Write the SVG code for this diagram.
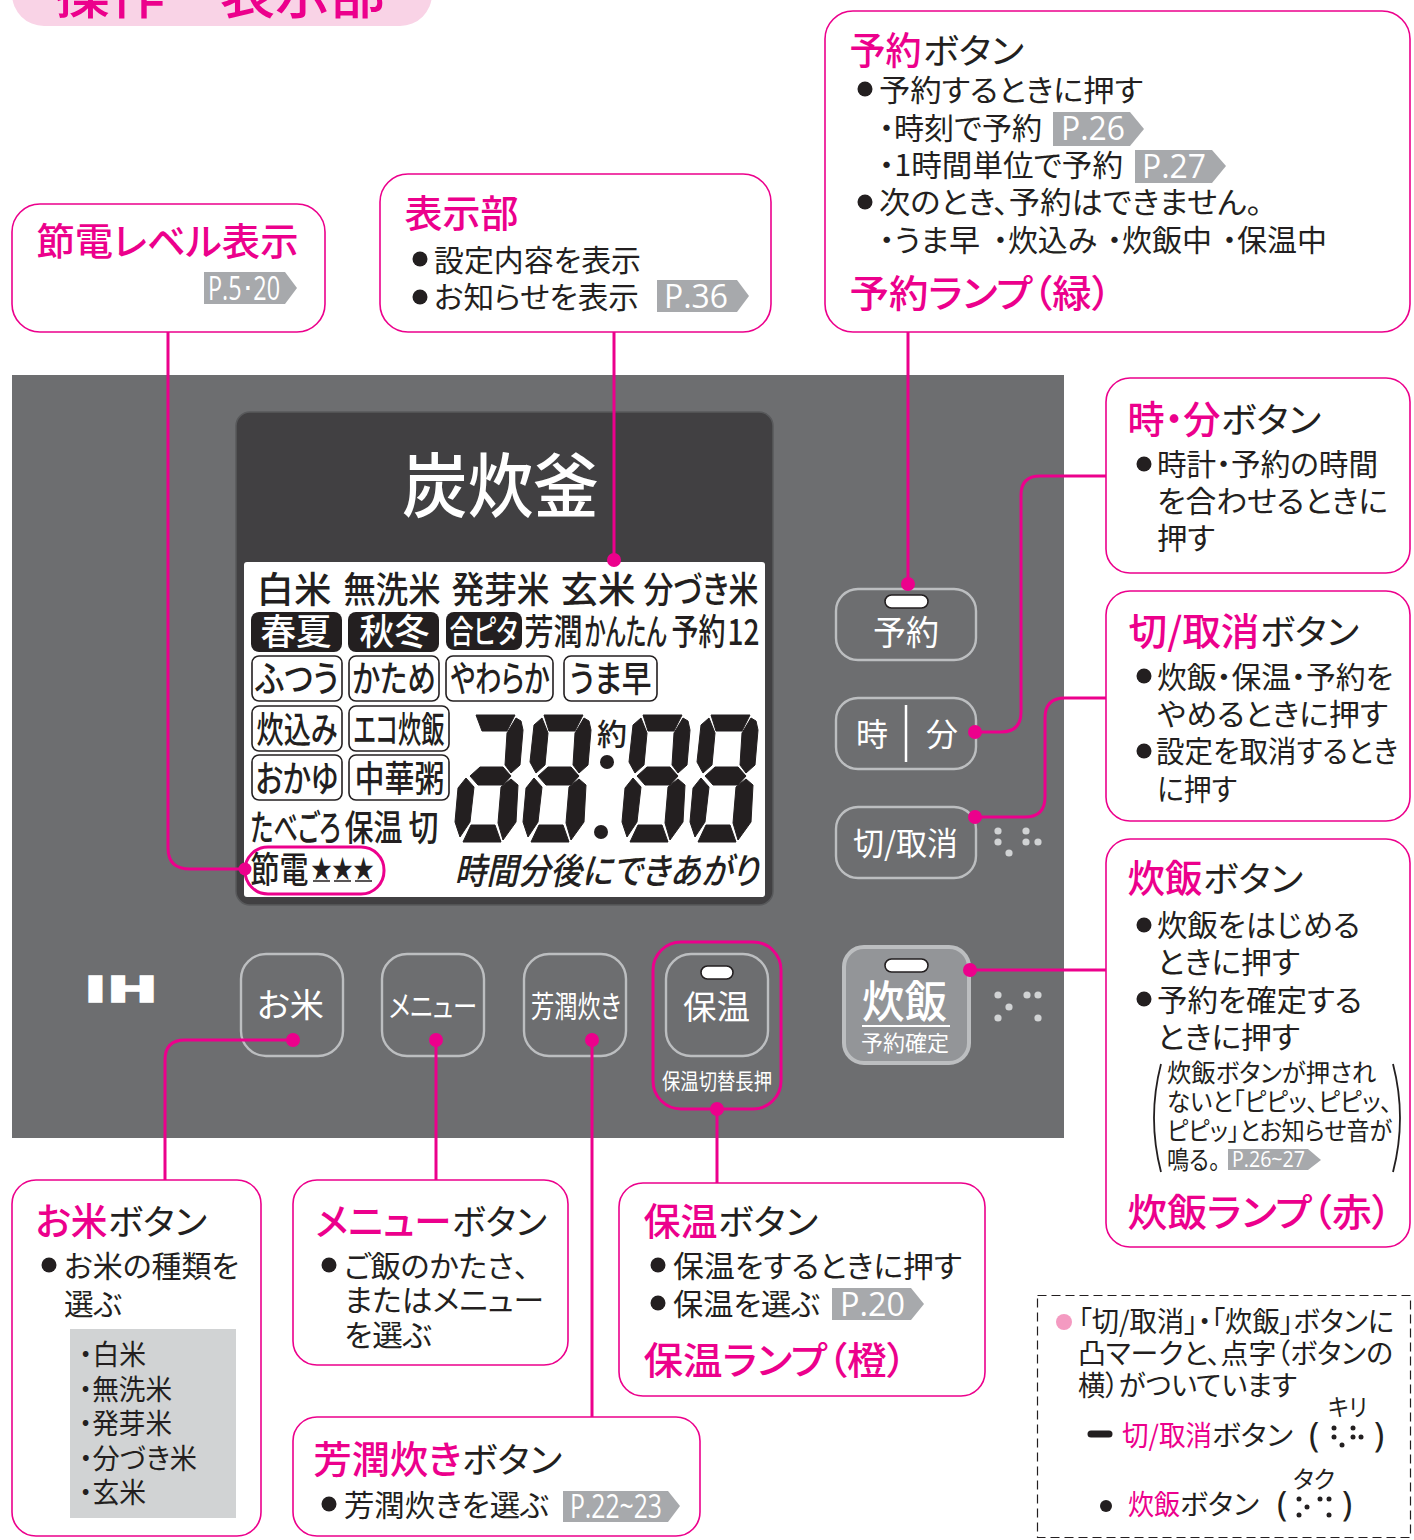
<svg xmlns="http://www.w3.org/2000/svg" width="1414" height="1540" viewBox="0 0 1414 1540">
<style>
text{font-family:"Noto Sans CJK JP","Noto Sans",sans-serif;font-feature-settings:"palt";fill:#231f20}
.box{fill:#fff;stroke:#ec008c;stroke-width:1.6}
.h{font-size:38px;fill:#ec008c;font-weight:500;transform:translate(-1.5px,0)}
.k{font-size:35px;font-weight:400;transform:translate(-1px,0)}
.b{font-size:30px;transform:translate(-1px,-1.5px)}
.s{font-size:25px}
.n{font-size:28px;transform:translate(-1px,0)}
.dot{fill:#231f20}
.tag{fill:#a7a9ac}
.tt{font-family:"Open Sans",sans-serif;fill:#fff;font-size:32px}
.p{fill:#ec008c}
.w{fill:#fff}
.btn{fill:none;stroke:#bcbec0;stroke-width:2.4}
.lamp{fill:#fff;stroke:#231f20;stroke-width:1.6}
.br{fill:#d1d3d4}
.bk{fill:#231f20}
.lc{font-size:36px;font-weight:500;transform:translate(-1.5px,-1px)}
.pl{fill:#fff;stroke:#231f20;stroke-width:1.6}
.cn{fill:none;stroke:#ec008c;stroke-width:3}
.seg{fill:#231f20;stroke:#231f20;stroke-width:1;stroke-linejoin:round}
</style>
<defs>
<g id="d">
<polygon class="seg" points="16,110 40,110 46,127 8,127"/>
<polygon class="seg" points="11,63 3,73 0,107 5,122 15,107 19,72"/>
<polygon class="seg" points="56,64 63,70 61,107 48,125 43,108 46,72"/>
<polygon class="seg" points="25,52 48,52 56,61 48,70 23,70 15,61"/>
<polygon class="seg" points="61,3 66,6 68,15 65,50 56,58 50,50 52,18"/>
</g>
<polygon id="t" class="seg" points="21,0 60,0 52,16 26,16"/>
<polygon id="ul" class="seg" points="19,3 11,10 7,47 13,58 22,50 25,18"/>
<polygon id="t1" class="seg" points="21,0 60,0 52,16 27,16"/>
</defs>

<g id="title">
<rect x="12" y="-40" width="420" height="66" rx="32" fill="#f9d3e6"/>
<text x="55" y="14" font-size="54" font-weight="500" style="fill:#ec008c;font-feature-settings:normal" textLength="330" lengthAdjust="spacingAndGlyphs">操作・表示部</text>
</g>

<g id="panel">
<rect x="12" y="375" width="1052" height="763" fill="#6d6e70"/>
</g>

<g id="display">
<rect x="236" y="412" width="537" height="493" rx="14" fill="#414042" stroke="#58595b" stroke-width="1.5"/>
<text x="402" y="512" font-size="70" font-weight="500" style="fill:#fff" textLength="197" lengthAdjust="spacingAndGlyphs">炭炊釜</text>
<rect x="244" y="562" width="521" height="335" rx="3" fill="#fff"/>
<g class="lcd">
<text class="lc" x="258" y="604" textLength="75" lengthAdjust="spacingAndGlyphs">白米</text>
<text class="lc" x="345" y="604" textLength="97" lengthAdjust="spacingAndGlyphs">無洗米</text>
<text class="lc" x="453" y="604" textLength="98" lengthAdjust="spacingAndGlyphs">発芽米</text>
<text class="lc" x="562" y="604" textLength="75" lengthAdjust="spacingAndGlyphs">玄米</text>
<text class="lc" x="645" y="604" textLength="115" lengthAdjust="spacingAndGlyphs">分づき米</text>
<rect class="bk" x="251" y="612" width="91" height="40" rx="8"/>
<rect class="bk" x="348" y="612" width="91" height="40" rx="8"/>
<rect class="bk" x="446" y="612" width="76" height="38" rx="8"/>
<text class="lc" style="fill:#fff" x="262" y="646" textLength="71" lengthAdjust="spacingAndGlyphs">春夏</text>
<text class="lc" style="fill:#fff" x="361" y="646" textLength="70" lengthAdjust="spacingAndGlyphs">秋冬</text>
<text class="lc" style="fill:#fff;font-size:32px" x="451" y="644" textLength="68" lengthAdjust="spacingAndGlyphs">合ピタ</text>
<text class="lc" x="526" y="646" textLength="58" lengthAdjust="spacingAndGlyphs">芳潤</text>
<text class="lc" x="586" y="646" textLength="82" lengthAdjust="spacingAndGlyphs">かんたん</text>
<text class="lc" x="673" y="646" textLength="54" lengthAdjust="spacingAndGlyphs">予約</text>
<text class="lc" x="729" y="646" textLength="32" lengthAdjust="spacingAndGlyphs">12</text>
<rect class="pl" x="252" y="656" width="90" height="45" rx="7"/>
<rect class="pl" x="349" y="656" width="90" height="45" rx="7"/>
<rect class="pl" x="446" y="656" width="107" height="45" rx="7"/>
<rect class="pl" x="564" y="656" width="93" height="45" rx="7"/>
<text class="lc" x="257" y="693" textLength="83" lengthAdjust="spacingAndGlyphs">ふつう</text>
<text class="lc" x="354" y="693" textLength="83" lengthAdjust="spacingAndGlyphs">かため</text>
<text class="lc" x="452" y="693" textLength="99" lengthAdjust="spacingAndGlyphs">やわらか</text>
<text class="lc" x="571" y="693" textLength="82" lengthAdjust="spacingAndGlyphs">うま早</text>
<rect class="pl" x="252" y="706" width="90" height="45" rx="7"/>
<rect class="pl" x="349" y="706" width="100" height="45" rx="7"/>
<text class="lc" x="258" y="744" textLength="81" lengthAdjust="spacingAndGlyphs">炊込み</text>
<text class="lc" x="355" y="744" textLength="91" lengthAdjust="spacingAndGlyphs">エコ炊飯</text>
<rect class="pl" x="252" y="755" width="90" height="45" rx="7"/>
<rect class="pl" x="349" y="755" width="100" height="45" rx="7"/>
<text class="lc" x="257" y="793" textLength="83" lengthAdjust="spacingAndGlyphs">おかゆ</text>
<text class="lc" x="356" y="793" textLength="90" lengthAdjust="spacingAndGlyphs">中華粥</text>
<text class="lc" x="252" y="842" textLength="90" lengthAdjust="spacingAndGlyphs">たべごろ</text>
<text class="lc" x="346" y="842" textLength="58" lengthAdjust="spacingAndGlyphs">保温</text>
<text class="lc" x="410" y="842" textLength="30" lengthAdjust="spacingAndGlyphs">切</text>
<text class="lc" x="252" y="884" textLength="58" lengthAdjust="spacingAndGlyphs">節電</text>
<text x="311" y="878" font-size="26" textLength="63" lengthAdjust="spacingAndGlyphs">★★★</text>
<path d="M313 881H330M334 881H351M355 881H372" stroke="#231f20" stroke-width="1.6"/>
<rect x="245" y="847" width="139" height="47" rx="23" fill="none" stroke="#ec008c" stroke-width="3"/>
<text class="lc" x="456" y="885" font-style="italic" textLength="304" lengthAdjust="spacingAndGlyphs">時間分後にできあがり</text>
<text x="597" y="745" font-size="30" font-weight="500" textLength="30" lengthAdjust="spacingAndGlyphs">約</text>
<circle class="bk" cx="607" cy="762" r="7"/>
<circle class="bk" cx="601" cy="832" r="7"/>
<g transform="translate(455,715)"><use href="#d"/><use href="#t1"/></g>
<g transform="translate(523,715)"><use href="#d"/><use href="#t"/><use href="#ul"/></g>
<g transform="translate(622,715)"><use href="#d"/><use href="#t"/><use href="#ul"/></g>
<g transform="translate(690,715)"><use href="#d"/><use href="#t"/><use href="#ul"/></g>
</g>
</g>

<g id="btn-yoyaku">
<rect class="btn" x="836" y="589" width="140" height="71" rx="22"/>
<rect class="lamp" x="885" y="595" width="43" height="13" rx="6.5"/>
<text style="fill:#fff" x="873" y="645" font-size="34" textLength="66" lengthAdjust="spacingAndGlyphs">予約</text>
</g>
<g id="btn-jifun">
<rect class="btn" x="836" y="698" width="140" height="71" rx="22"/>
<text style="fill:#fff" x="856" y="746" font-size="32" textLength="32" lengthAdjust="spacingAndGlyphs">時</text>
<text style="fill:#fff" x="926" y="746" font-size="32" textLength="32" lengthAdjust="spacingAndGlyphs">分</text>
<path d="M906 705V762" stroke="#fff" stroke-width="2.5"/>
</g>
<g id="btn-kiri">
<rect class="btn" x="836" y="807" width="140" height="71" rx="22"/>
<text style="fill:#fff" x="853" y="855" font-size="32" textLength="105" lengthAdjust="spacingAndGlyphs">切/取消</text>
<circle class="br" cx="998" cy="831" r="3.6"/><circle class="br" cx="998" cy="842" r="3.6"/><circle class="br" cx="1009" cy="853" r="3.6"/>
<circle class="br" cx="1026" cy="831" r="3.6"/><circle class="br" cx="1026" cy="842" r="3.6"/><circle class="br" cx="1038" cy="842" r="3.6"/>
</g>
<g id="btn-suihan">
<rect x="844" y="947" width="125" height="116" rx="20" fill="#939598" stroke="#bcbec0" stroke-width="4"/>
<rect class="lamp" x="885" y="959" width="43" height="13" rx="6.5"/>
<text style="fill:#fff" x="862" y="1018" font-size="44" font-weight="500" textLength="85" lengthAdjust="spacingAndGlyphs">炊飯</text>
<path d="M862 1026H950" stroke="#fff" stroke-width="2"/>
<text style="fill:#fff" x="861" y="1051" font-size="22" textLength="88" lengthAdjust="spacingAndGlyphs">予約確定</text>
<circle class="br" cx="998" cy="995" r="3.6"/><circle class="br" cx="1009" cy="1007" r="3.6"/><circle class="br" cx="998" cy="1018" r="3.6"/>
<circle class="br" cx="1027" cy="995" r="3.6"/><circle class="br" cx="1038" cy="995" r="3.6"/><circle class="br" cx="1038" cy="1018" r="3.6"/>
</g>
<g id="logo-ih">
<text x="84" y="1002" font-size="36" font-weight="700" style="font-family:'DejaVu Sans',sans-serif;fill:#fff;stroke:#fff;stroke-width:1.5" textLength="74" lengthAdjust="spacingAndGlyphs">IH</text>
</g>
<g id="btn-okome">
<rect class="btn" x="241" y="954" width="102" height="102" rx="25"/>
<text style="fill:#fff" x="257" y="1017" font-size="33" textLength="67" lengthAdjust="spacingAndGlyphs">お米</text>
</g>
<g id="btn-menu">
<rect class="btn" x="382" y="954" width="102" height="102" rx="25"/>
<text style="fill:#fff" x="389" y="1017" font-size="30" textLength="88" lengthAdjust="spacingAndGlyphs">メニュー</text>
</g>
<g id="btn-hojun">
<rect class="btn" x="524" y="954" width="102" height="102" rx="25"/>
<text style="fill:#fff" x="531" y="1017" font-size="30" textLength="90" lengthAdjust="spacingAndGlyphs">芳潤炊き</text>
</g>
<g id="btn-hoon">
<rect class="btn" x="666" y="954" width="102" height="102" rx="25"/>
<rect class="lamp" x="701" y="966" width="32" height="13" rx="6.5"/>
<text style="fill:#fff" x="683" y="1019" font-size="33" textLength="67" lengthAdjust="spacingAndGlyphs">保温</text>
<text style="fill:#fff" x="662" y="1089" font-size="22" textLength="110" lengthAdjust="spacingAndGlyphs">保温切替長押</text>
<rect x="653" y="942" width="128" height="167" rx="28" fill="none" stroke="#ec008c" stroke-width="3"/>
</g>

<g id="connectors">
<path class="cn" d="M168 332V848Q168 869 190 869H245"/>
<path class="cn" d="M614 332V560"/>
<path class="cn" d="M908 332V584"/>
<path class="cn" d="M1106 476H1040Q1021 476 1021 495V712Q1021 732 1001 732H975"/>
<path class="cn" d="M1106 698H1065Q1045 698 1045 718V797Q1045 817 1025 817H975"/>
<path class="cn" d="M1106 970H970"/>
<path class="cn" d="M165 1180V1060Q165 1040 185 1040H293"/>
<path class="cn" d="M436 1180V1040"/>
<path class="cn" d="M592 1417V1040"/>
<path class="cn" d="M717 1183V1109"/>
<circle class="p" cx="245" cy="869" r="6.5"/><circle class="p" cx="614" cy="560" r="7"/><circle class="p" cx="908" cy="584" r="7"/>
<circle class="p" cx="975" cy="732" r="7"/><circle class="p" cx="975" cy="817" r="7"/><circle class="p" cx="970" cy="970" r="7"/>
<circle class="p" cx="293" cy="1040" r="7"/><circle class="p" cx="436" cy="1040" r="7"/><circle class="p" cx="592" cy="1040" r="7"/><circle class="p" cx="717" cy="1109" r="7"/>
</g>

<g id="box-setsuden">
<rect class="box" x="12" y="204" width="313" height="128" rx="28"/>
<text class="h" x="38" y="255" textLength="262" lengthAdjust="spacingAndGlyphs">節電レベル表示</text>
<polygon class="tag" points="204,272 285,272 297,288 285,304 204,304"/>
<text class="tt" x="208" y="300" textLength="72" lengthAdjust="spacingAndGlyphs">P.5･20</text>
</g>
<g id="box-hyoji">
<rect class="box" x="380" y="174" width="391" height="158" rx="28"/>
<text class="h" x="406" y="227" textLength="114" lengthAdjust="spacingAndGlyphs">表示部</text>
<circle class="dot" cx="420" cy="259" r="7.5"/>
<text class="b" x="435" y="272" textLength="207" lengthAdjust="spacingAndGlyphs">設定内容を表示</text>
<circle class="dot" cx="420" cy="297" r="7.5"/>
<text class="b" x="435" y="309" textLength="205" lengthAdjust="spacingAndGlyphs">お知らせを表示</text>
<polygon class="tag" points="657,280 737,280 749,296 737,312 657,312"/>
<text class="tt" x="664" y="308" textLength="64" lengthAdjust="spacingAndGlyphs">P.36</text>
</g>
<g id="box-yoyaku">
<rect class="box" x="825" y="11" width="585" height="321" rx="28"/>
<text class="h" x="851" y="64" textLength="72" lengthAdjust="spacingAndGlyphs">予約</text>
<text class="k" x="924" y="64" textLength="101" lengthAdjust="spacingAndGlyphs">ボタン</text>
<circle class="dot" cx="865" cy="89" r="7.5"/>
<text class="b" x="880" y="102" textLength="264" lengthAdjust="spacingAndGlyphs">予約するときに押す</text>
<text class="b" x="880" y="140" textLength="163" lengthAdjust="spacingAndGlyphs">・時刻で予約</text>
<polygon class="tag" points="1053,112 1130,112 1144,129 1130,146 1053,146"/>
<text class="tt" x="1061" y="140" textLength="64" lengthAdjust="spacingAndGlyphs">P.26</text>
<text class="b" x="880" y="177" textLength="244" lengthAdjust="spacingAndGlyphs">・1時間単位で予約</text>
<polygon class="tag" points="1135,150 1212,150 1226,166 1212,183 1135,183"/>
<text class="tt" x="1142" y="178" textLength="64" lengthAdjust="spacingAndGlyphs">P.27</text>
<circle class="dot" cx="865" cy="202" r="7.5"/>
<text class="b" x="880" y="214" textLength="383" lengthAdjust="spacingAndGlyphs">次のとき、予約はできません。</text>
<text class="b" x="880" y="252" textLength="101" lengthAdjust="spacingAndGlyphs">・うま早</text>
<text class="b" x="994" y="252" textLength="104" lengthAdjust="spacingAndGlyphs">・炊込み</text>
<text class="b" x="1108" y="252" textLength="105" lengthAdjust="spacingAndGlyphs">・炊飯中</text>
<text class="b" x="1223" y="252" textLength="105" lengthAdjust="spacingAndGlyphs">・保温中</text>
<text class="h" x="851" y="307" textLength="262" lengthAdjust="spacingAndGlyphs">予約ランプ（緑）</text>
</g>
<g id="box-jifun">
<rect class="box" x="1106" y="378" width="304" height="195" rx="24"/>
<text class="h" x="1129" y="433" textLength="93" lengthAdjust="spacingAndGlyphs">時・分</text>
<text class="k" x="1222" y="433" textLength="100" lengthAdjust="spacingAndGlyphs">ボタン</text>
<circle class="dot" cx="1144" cy="464" r="7.5"/>
<text class="b" x="1158" y="476" textLength="221" lengthAdjust="spacingAndGlyphs">時計・予約の時間</text>
<text class="b" x="1158" y="513" textLength="231" lengthAdjust="spacingAndGlyphs">を合わせるときに</text>
<text class="b" x="1158" y="550" textLength="58" lengthAdjust="spacingAndGlyphs">押す</text>
</g>
<g id="box-kiri">
<rect class="box" x="1106" y="591" width="304" height="230" rx="24"/>
<text class="h" x="1130" y="645" textLength="131" lengthAdjust="spacingAndGlyphs">切/取消</text>
<text class="k" x="1261" y="645" textLength="99" lengthAdjust="spacingAndGlyphs">ボタン</text>
<circle class="dot" cx="1144" cy="676" r="7.5"/>
<text class="b" x="1158" y="689" textLength="236" lengthAdjust="spacingAndGlyphs">炊飯・保温・予約を</text>
<text class="b" x="1158" y="726" textLength="231" lengthAdjust="spacingAndGlyphs">やめるときに押す</text>
<circle class="dot" cx="1144" cy="751" r="7.5"/>
<text class="b" x="1157" y="763" textLength="242" lengthAdjust="spacingAndGlyphs">設定を取消するとき</text>
<text class="b" x="1158" y="801" textLength="80" lengthAdjust="spacingAndGlyphs">に押す</text>
</g>
<g id="box-suihan">
<rect class="box" x="1106" y="839" width="304" height="408" rx="24"/>
<text class="h" x="1129" y="892" textLength="75" lengthAdjust="spacingAndGlyphs">炊飯</text>
<text class="k" x="1204" y="892" textLength="100" lengthAdjust="spacingAndGlyphs">ボタン</text>
<circle class="dot" cx="1144" cy="925" r="7.5"/>
<text class="b" x="1158" y="937" textLength="203" lengthAdjust="spacingAndGlyphs">炊飯をはじめる</text>
<text class="b" x="1158" y="974" textLength="143" lengthAdjust="spacingAndGlyphs">ときに押す</text>
<circle class="dot" cx="1144" cy="999" r="7.5"/>
<text class="b" x="1158" y="1012" textLength="205" lengthAdjust="spacingAndGlyphs">予約を確定する</text>
<text class="b" x="1158" y="1049" textLength="143" lengthAdjust="spacingAndGlyphs">ときに押す</text>
<text class="s" x="1167" y="1082" textLength="209" lengthAdjust="spacingAndGlyphs">炊飯ボタンが押され</text>
<text class="s" x="1167" y="1111" textLength="225" lengthAdjust="spacingAndGlyphs">ないと「ピピッ、ピピッ、</text>
<text class="s" x="1167" y="1140" textLength="225" lengthAdjust="spacingAndGlyphs">ピピッ」とお知らせ音が</text>
<text class="s" x="1167" y="1169" textLength="53" lengthAdjust="spacingAndGlyphs">鳴る。</text>
<polygon class="tag" points="1228,1149 1308,1149 1321,1160 1308,1170 1228,1170"/>
<text class="tt" style="font-size:22px" x="1232" y="1167" textLength="73" lengthAdjust="spacingAndGlyphs">P.26~27</text>
<path d="M1161 1064Q1147 1118 1161 1172M1393 1064Q1407 1118 1393 1172" fill="none" stroke="#231f20" stroke-width="1.8"/>
<text class="h" x="1129" y="1226" textLength="264" lengthAdjust="spacingAndGlyphs">炊飯ランプ（赤）</text>
</g>
<g id="box-okome">
<rect class="box" x="12" y="1180" width="249" height="356" rx="24"/>
<text class="h" x="37" y="1235" textLength="72" lengthAdjust="spacingAndGlyphs">お米</text>
<text class="k" x="109" y="1235" textLength="99" lengthAdjust="spacingAndGlyphs">ボタン</text>
<circle class="dot" cx="49" cy="1265" r="7.5"/>
<text class="b" x="65" y="1278" textLength="175" lengthAdjust="spacingAndGlyphs">お米の種類を</text>
<text class="b" x="65" y="1316" textLength="58" lengthAdjust="spacingAndGlyphs">選ぶ</text>
<rect x="70" y="1329" width="166" height="189" fill="#d1d3d4"/>
<text class="n" x="80" y="1365" textLength="67" lengthAdjust="spacingAndGlyphs">・白米</text>
<text class="n" x="80" y="1400" textLength="93" lengthAdjust="spacingAndGlyphs">・無洗米</text>
<text class="n" x="80" y="1434" textLength="93" lengthAdjust="spacingAndGlyphs">・発芽米</text>
<text class="n" x="80" y="1469" textLength="118" lengthAdjust="spacingAndGlyphs">・分づき米</text>
<text class="n" x="80" y="1503" textLength="67" lengthAdjust="spacingAndGlyphs">・玄米</text>
</g>
<g id="box-menu">
<rect class="box" x="293" y="1180" width="275" height="185" rx="24"/>
<text class="h" x="317" y="1235" textLength="136" lengthAdjust="spacingAndGlyphs">メニュー</text>
<text class="k" x="453" y="1235" textLength="95" lengthAdjust="spacingAndGlyphs">ボタン</text>
<circle class="dot" cx="329" cy="1265" r="7.5"/>
<text class="b" x="345" y="1278" textLength="185" lengthAdjust="spacingAndGlyphs">ご飯のかたさ、</text>
<text class="b" x="345" y="1312" textLength="200" lengthAdjust="spacingAndGlyphs">またはメニュー</text>
<text class="b" x="345" y="1347" textLength="88" lengthAdjust="spacingAndGlyphs">を選ぶ</text>
</g>
<g id="box-hoon">
<rect class="box" x="619" y="1183" width="366" height="213" rx="24"/>
<text class="h" x="645" y="1235" textLength="74" lengthAdjust="spacingAndGlyphs">保温</text>
<text class="k" x="719" y="1235" textLength="100" lengthAdjust="spacingAndGlyphs">ボタン</text>
<circle class="dot" cx="658" cy="1265" r="7.5"/>
<text class="b" x="674" y="1278" textLength="289" lengthAdjust="spacingAndGlyphs">保温をするときに押す</text>
<circle class="dot" cx="658" cy="1303" r="7.5"/>
<text class="b" x="674" y="1316" textLength="147" lengthAdjust="spacingAndGlyphs">保温を選ぶ</text>
<polygon class="tag" points="832,1288 911,1288 924,1304 911,1320 832,1320"/>
<text class="tt" x="840" y="1316" textLength="65" lengthAdjust="spacingAndGlyphs">P.20</text>
<text class="h" x="645" y="1374" textLength="263" lengthAdjust="spacingAndGlyphs">保温ランプ（橙）</text>
</g>
<g id="box-hojun">
<rect class="box" x="293" y="1417" width="407" height="119" rx="24"/>
<text class="h" x="315" y="1473" textLength="148" lengthAdjust="spacingAndGlyphs">芳潤炊き</text>
<text class="k" x="463" y="1473" textLength="100" lengthAdjust="spacingAndGlyphs">ボタン</text>
<circle class="dot" cx="329" cy="1504" r="7.5"/>
<text class="b" x="345" y="1517" textLength="205" lengthAdjust="spacingAndGlyphs">芳潤炊きを選ぶ</text>
<polygon class="tag" points="563,1491 668,1491 680,1506 668,1522 563,1522"/>
<text class="tt" x="570" y="1518" textLength="92" lengthAdjust="spacingAndGlyphs">P.22~23</text>
</g>
<g id="box-note">
<rect x="1037.5" y="1295.5" width="373" height="242" fill="none" stroke="#231f20" stroke-width="1.2" stroke-dasharray="9 5"/>
<circle cx="1064" cy="1322" r="8" fill="#f49ac1"/>
<text class="n" x="1079" y="1332" textLength="316" lengthAdjust="spacingAndGlyphs">「切/取消」・「炊飯」ボタンに</text>
<text class="n" x="1079" y="1364" textLength="315" lengthAdjust="spacingAndGlyphs">凸マークと、点字（ボタンの</text>
<text class="n" x="1079" y="1396" textLength="219" lengthAdjust="spacingAndGlyphs">横）がついています</text>
<text x="1328" y="1416" font-size="24" textLength="39" lengthAdjust="spacingAndGlyphs">キリ</text>
<path d="M1091 1434H1109" stroke="#231f20" stroke-width="7" stroke-linecap="round"/>
<text class="n" x="1123" y="1446" style="fill:#ec008c" textLength="90" lengthAdjust="spacingAndGlyphs">切/取消</text>
<text class="n" x="1213" y="1446" textLength="81" lengthAdjust="spacingAndGlyphs">ボタン</text>
<text x="1309" y="1447" font-size="34" style="font-family:'Noto Sans',sans-serif">(</text>
<text x="1374" y="1447" font-size="34" style="font-family:'Noto Sans',sans-serif">)</text>
<circle class="dot" cx="1334" cy="1428" r="2.5"/><circle class="dot" cx="1334" cy="1437" r="2.5"/><circle class="dot" cx="1342" cy="1445" r="2.5"/>
<circle class="dot" cx="1353" cy="1428" r="2.5"/><circle class="dot" cx="1353" cy="1437" r="2.5"/><circle class="dot" cx="1361" cy="1437" r="2.5"/>
<text x="1293" y="1488" font-size="24" textLength="42" lengthAdjust="spacingAndGlyphs">タク</text>
<circle class="dot" cx="1106" cy="1506" r="6"/>
<text class="n" x="1129" y="1515" style="fill:#ec008c" textLength="52" lengthAdjust="spacingAndGlyphs">炊飯</text>
<text class="n" x="1181" y="1515" textLength="79" lengthAdjust="spacingAndGlyphs">ボタン</text>
<text x="1277" y="1516" font-size="34" style="font-family:'Noto Sans',sans-serif">(</text>
<text x="1342" y="1516" font-size="34" style="font-family:'Noto Sans',sans-serif">)</text>
<circle class="dot" cx="1299" cy="1499" r="2.5"/><circle class="dot" cx="1307" cy="1507" r="2.5"/><circle class="dot" cx="1299" cy="1515" r="2.5"/>
<circle class="dot" cx="1320" cy="1499" r="2.5"/><circle class="dot" cx="1329" cy="1499" r="2.5"/><circle class="dot" cx="1329" cy="1515" r="2.5"/>
</g>
</svg>
